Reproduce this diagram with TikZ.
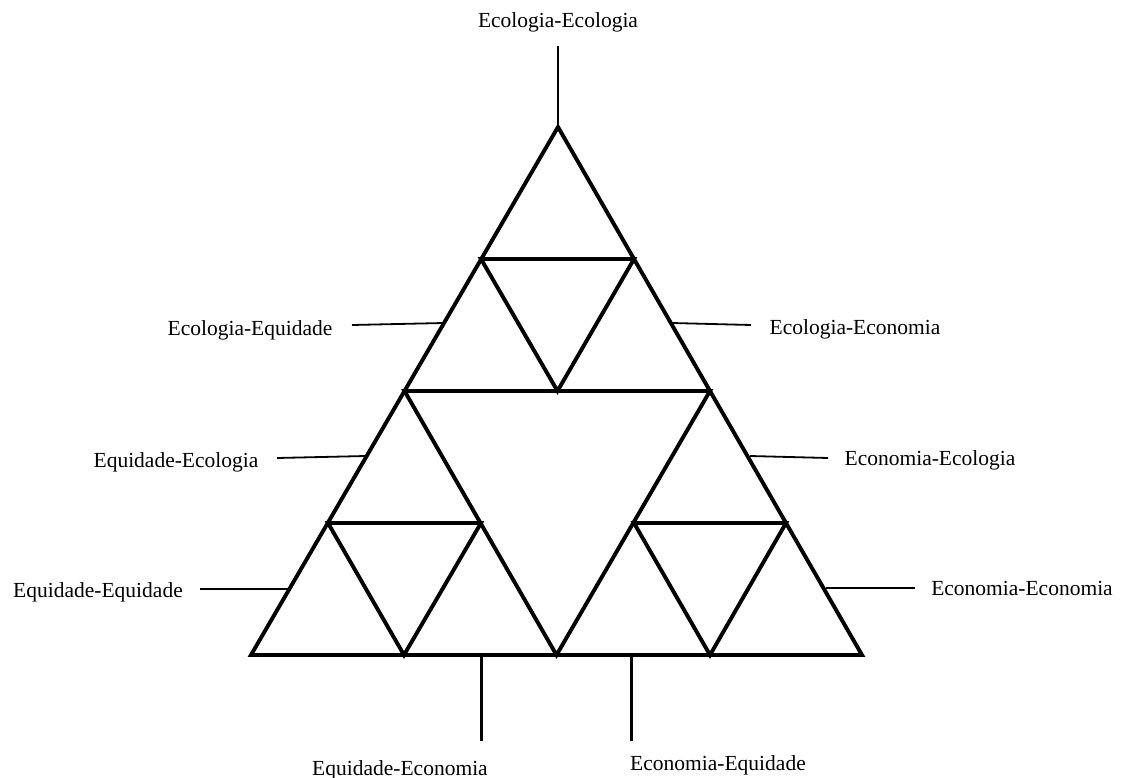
\documentclass[tikz,border=0pt]{standalone}
\usepackage{fontspec}
\setmainfont{Liberation Serif}
\begin{document}
\begin{tikzpicture}[x=1pt,y=-1pt,
  tri/.style={line width=3.9pt,line join=miter},
  lead/.style={line width=1.8pt},
  vlead/.style={line width=2.2pt},
  lab/.style={inner sep=0pt,anchor=base,font=\fontsize{21.5}{24}\selectfont}]
\useasboundingbox (0,0) rectangle (1122,778);
% vertices
\coordinate (T) at (558,127);
\coordinate (L) at (251,655);
\coordinate (R) at (862,655);
\coordinate (ML) at (404.5,391);
\coordinate (MR) at (710,391);
\coordinate (MB) at (556.5,655);
\coordinate (a1) at (481,259);
\coordinate (a2) at (634,259);
\coordinate (a3) at (557.5,391);
\coordinate (b1) at (328,523);
\coordinate (b2) at (481,523);
\coordinate (b3) at (404,655);
\coordinate (c1) at (634,523);
\coordinate (c2) at (786,523);
\coordinate (c3) at (710,655);
% triangles
\draw[tri] (T) -- (L) -- (R) -- cycle;
\draw[tri] (ML) -- (MR) -- (MB) -- cycle;
\draw[tri] (a1) -- (a2) -- (a3) -- cycle;
\draw[tri] (b1) -- (b2) -- (b3) -- cycle;
\draw[tri] (c1) -- (c2) -- (c3) -- cycle;
% labels
\node[lab] (ee) at (558,28) {Ecologia-Ecologia};
\node[lab] (eq) at (250,335) {Ecologia-Equidade};
\node[lab] (ec) at (855,334) {Ecologia-Economia};
\node[lab] (qe) at (176,467) {Equidade-Ecologia};
\node[lab] (ce) at (930,465) {Economia-Ecologia};
\node[lab] (qq) at (98,597) {Equidade-Equidade};
\node[lab] (cc) at (1022,595) {Economia-Economia};
\node[lab] (qc) at (400,775) {Equidade-Economia};
\node[lab] (cq) at (718,770) {Economia-Equidade};
% lead ends
\coordinate (ee1) at (558,46);
\coordinate (eq1) at (352,325);
\coordinate (eq2) at (444,323);
\coordinate (ec1) at (751,325);
\coordinate (ec2) at (672,323);
\coordinate (qe1) at (277,458);
\coordinate (qe2) at (366,456);
\coordinate (ce1) at (828,458);
\coordinate (ce2) at (750,456);
\coordinate (qq1) at (200,589);
\coordinate (qq2) at (289,589);
\coordinate (cc1) at (915,588);
\coordinate (cc2) at (826,588);
\coordinate (qc1) at (481.5,741);
\coordinate (qc2) at (481.5,655);
\coordinate (cq1) at (631.5,741);
\coordinate (cq2) at (631.5,655);
\draw[vlead] (ee1) -- (T);
\draw[lead] (eq1) -- (eq2);
\draw[lead] (ec1) -- (ec2);
\draw[lead] (qe1) -- (qe2);
\draw[lead] (ce1) -- (ce2);
\draw[lead] (qq1) -- (qq2);
\draw[lead] (cc1) -- (cc2);
\draw[vlead] (qc1) -- (qc2);
\draw[vlead] (cq1) -- (cq2);
\end{tikzpicture}
\end{document}
